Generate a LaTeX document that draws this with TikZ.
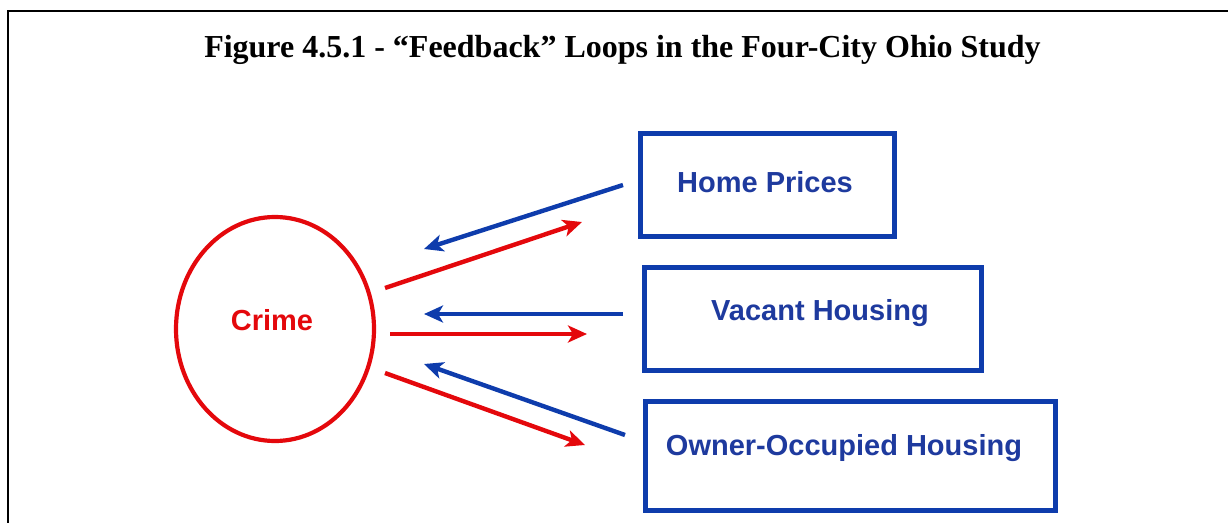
\documentclass[tikz,border=0pt]{standalone}
\usepackage{fontspec}
\setmainfont{Liberation Serif}
\newfontfamily\arialfont{Liberation Sans}
\usetikzlibrary{arrows.meta,shapes.geometric}
\definecolor{crimered}{RGB}{228,8,12}
\definecolor{boxblue}{RGB}{14,60,172}
\definecolor{textblue}{RGB}{30,58,158}
\tikzset{
  varbox/.style={draw=boxblue, line width=4.8pt, minimum width=#1, minimum height=104pt, inner sep=0pt, anchor=north west},
  labelfont/.style={font=\arialfont\bfseries\fontsize{29}{32}\selectfont, text=#1},
  redarrow/.style={draw=crimered, line width=4.4pt, -{Stealth[length=19pt,width=17pt,inset=5pt]}},
  bluearrow/.style={draw=boxblue, line width=4.4pt, -{Stealth[length=19pt,width=17pt,inset=5pt]}},
}
\begin{document}
\begin{tikzpicture}[x=1pt,y=-1pt]
\useasboundingbox (0,0) rectangle (1228,522);
\draw[line width=2.2pt] (8,530) -- (8,11) -- (1240,11);
\node[font=\bfseries\fontsize{32}{36}\selectfont, anchor=base] (title) at (622.5,57) {Figure 4.5.1 - “Feedback” Loops in the Four-City Ohio Study};
\node[draw=crimered, line width=4.2pt, ellipse, minimum width=198pt, minimum height=224pt, inner sep=0pt] (crime) at (275,329) {};
\node[labelfont=crimered] (crimelabel) at (272,320) {Crime};
\node[varbox=254pt, minimum height=103pt] (home) at (638,131) {};
\node[labelfont=textblue] (homelabel) at (765,182) {Home Prices};
\node[varbox=337pt, minimum height=103pt] (vacant) at (642,265) {};
\node[labelfont=textblue] (vacantlabel) at (820,313) {Vacant Housing};
\node[varbox=410pt, minimum height=109pt] (owner) at (643,399) {};
\node[labelfont=textblue] (ownerlabel) at (844,448) {Owner-Occupied Housing};
% arrow end points
\coordinate (b1s) at (623,185); \coordinate (b1e) at (424,249);
\coordinate (r1s) at (385,288); \coordinate (r1e) at (582,222);
\coordinate (b2s) at (623,314); \coordinate (b2e) at (424,314);
\coordinate (r2s) at (390,334); \coordinate (r2e) at (587,334);
\coordinate (b3s) at (625,435); \coordinate (b3e) at (424,364);
\coordinate (r3s) at (385,373); \coordinate (r3e) at (585,445);
\draw[bluearrow] (b1s) -- (b1e);
\draw[redarrow] (r1s) -- (r1e);
\draw[bluearrow] (b2s) -- (b2e);
\draw[redarrow] (r2s) -- (r2e);
\draw[bluearrow] (b3s) -- (b3e);
\draw[redarrow] (r3s) -- (r3e);
\end{tikzpicture}
\end{document}
